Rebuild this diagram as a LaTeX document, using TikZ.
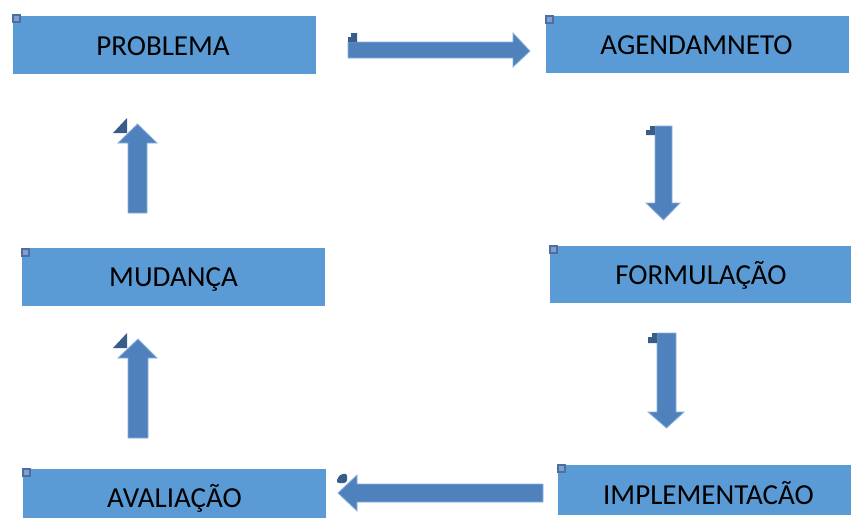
\documentclass[tikz,border=0pt]{standalone}
\usepackage{fontspec}
\setmainfont{Carlito}
\definecolor{boxblue}{HTML}{5B9BD5}
\definecolor{arrowblue}{HTML}{4F81BD}
\definecolor{arrowedge}{HTML}{8DB0DA}
\definecolor{handledark}{HTML}{385D8A}
\definecolor{markedge}{HTML}{4E6E9E}
\definecolor{markfill}{HTML}{7F9FCF}
\begin{document}
\begin{tikzpicture}[x=1pt,y=-1pt,
  stagebox/.style={fill=boxblue,draw=none,inner sep=0pt},
  stagetext/.style={font=\fontsize{29}{32}\selectfont,text=black,
    text height=18.7pt,text depth=0pt,inner sep=0pt,anchor=center},
  blockarrow/.style={fill=arrowblue,draw=arrowedge,line width=0.8pt,line join=miter},
  handle/.style={fill=handledark,draw=none},
  cornermark/.style={fill=markfill,draw=markedge,line width=2pt}]
\useasboundingbox (0,0) rectangle (851,517);

% stage boxes
\path[stagebox] (13,16) rectangle (316,74);
\path[stagebox] (546,16) rectangle (849,73);
\path[stagebox] (550,246) rectangle (852,303);
\path[stagebox] (22,248) rectangle (325,306);
\path[stagebox] (23,469) rectangle (326,527);
\path[stagebox] (558,465) rectangle (860,515);

% labels
\node[stagetext] (problema) at (163,46) {PROBLEMA};
\node[stagetext] (agenda) at (696.5,45.5) {AGENDAMNETO};
\node[stagetext] (formula) at (701,275.5) {FORMULAÇÃO};
\node[stagetext] (implem) at (708.5,495) {IMPLEMENTACÃO};
\node[stagetext] (avalia) at (174.5,498) {AVALIAÇÃO};
\node[stagetext] (mudanca) at (173.5,277.5) {MUDANÇA};

% small corner handles of the boxes
\path[cornermark] (13,15) rectangle (20,22);
\path[cornermark] (546,16) rectangle (553,23);
\path[cornermark] (550,246) rectangle (557,253);
\path[cornermark] (22,249) rectangle (29,256);
\path[cornermark] (23,469) rectangle (30,476);
\path[cornermark] (558,465) rectangle (565,472);

% block arrows of the cycle
% problema -> agendamento
\draw[blockarrow] (348,42) -- (513,42) -- (513,33) -- (530,51) -- (513,67) -- (513,58) -- (348,58) -- cycle;
\fill[handle] (351,33) -- (357,33) -- (357,42) -- (348,42) -- (348,37) -- (351,37) -- cycle;

% agendamento -> formulacao
\draw[blockarrow] (655,126) -- (672,126) -- (672,203) -- (680,203) -- (663.5,220) -- (646,203) -- (655,203) -- cycle;
\fill[handle] (650,126) -- (655,126) -- (655,135) -- (646,135) -- (646,130) -- (650,130) -- cycle;

% formulacao -> implementacao
\draw[blockarrow] (657,333) -- (676,333) -- (676,412) -- (684,412) -- (666.5,428) -- (648,412) -- (657,412) -- cycle;
\fill[handle] (652,333) -- (657,333) -- (657,343) -- (648,343) -- (648,337) -- (652,337) -- cycle;

% implementacao -> avaliacao
\draw[blockarrow] (543,484) -- (357,484) -- (357,475) -- (338,493) -- (357,511) -- (357,502) -- (543,502) -- cycle;
\fill[handle,rounded corners=3pt] (336,483) -- (339,475) -- (347,473) -- (347,483) -- cycle;

% avaliacao -> mudanca
\draw[blockarrow] (128,438) -- (128,358) -- (118,358) -- (138,339) -- (157,358) -- (148,358) -- (148,438) -- cycle;
\fill[handle] (113,348) -- (127,333) -- (127,348) -- cycle;

% mudanca -> problema
\draw[blockarrow] (128,213) -- (128,143) -- (118,143) -- (137.5,124) -- (157,143) -- (147,143) -- (147,213) -- cycle;
\fill[handle] (113,133) -- (127,118) -- (127,133) -- cycle;
\end{tikzpicture}
\end{document}
